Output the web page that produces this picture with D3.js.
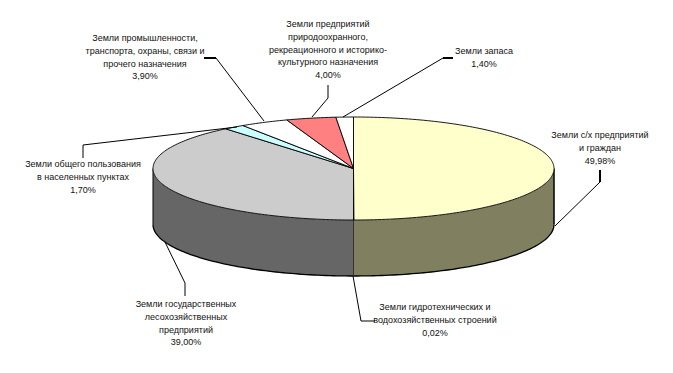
<!DOCTYPE html>
<html>
<head>
<meta charset="utf-8">
<script src="https://cdn.jsdelivr.net/npm/d3@7"></script>
<style>
  html, body { margin: 0; padding: 0; background: #fff; }
  svg { display: block; }
  text { font-family: "Liberation Sans", Arial, sans-serif; font-size: 9px; fill: #111; text-anchor: middle; }
</style>
</head>
<body>
<div id="chart"></div>
<script>
const categories = [
  'Земли с/х предприятий и граждан',
  'Земли гидротехнических и водохозяйственных строений',
  'Земли государственных лесохозяйственных предприятий',
  'Земли общего пользования в населенных пунктах',
  'Земли промышленности, транспорта, охраны, связи и прочего назначения',
  'Земли предприятий природоохранного, рекреационного и историко-культурного назначения',
  'Земли запаса'
];
const shares = [49.98, 0.02, 39.0, 1.7, 3.9, 4.0, 1.4];
const valueLabels = ['49,98%', '0,02%', '39,00%', '1,70%', '3,90%', '4,00%', '1,40%'];

const topColors = ['#ffffcc', '#ffffcc', '#cccccc', '#ccffff', '#ffffff', '#ff8080', '#ffffff'];
const wallColors = ['#808060', '#808060', '#666666', '#666666', '#808080', '#804040', '#808080'];

// label wrapping and placement, same order as categories
const labelLines = [
  ['Земли с/х предприятий', 'и граждан'],
  ['Земли гидротехнических и', 'водохозяйственных строений'],
  ['Земли государственных', 'лесохозяйственных', 'предприятий'],
  ['Земли общего пользования', 'в населенных пунктах'],
  ['Земли промышленности,', 'транспорта, охраны, связи и', 'прочего назначения'],
  ['Земли предприятий', 'природоохранного,', 'рекреационного и историко-', 'культурного назначения'],
  ['Земли запаса']
];
const labelPos = [[600, 135], [435, 307], [186, 304], [83, 164], [145, 38], [328, 24], [484, 51]];
const leaders = [
  [[600, 170], [600, 182], [555, 226]],
  [[353, 276], [361, 321], [375, 321]],
  [[185, 296], [185, 283], [165, 242]],
  [[83, 158], [83, 145], [237, 127]],
  [[204, 58], [216, 58], [264, 121]],
  [[328, 85], [328, 98], [312, 117]],
  [[453, 58], [443, 58], [343, 117]]
];
const leaderTicks = [
  [[600, 170], [600, 182]],
  [],
  [],
  [],
  [[204, 58], [216, 58]],
  [],
  [[453, 58], [443, 58]]
];

const width = 673;
const height = 373;
const lineHeight = 12.8;

const svg = d3.select('#chart')
  .append('svg')
  .attr('width', width)
  .attr('height', height);

// unit circle squashed into the tilted ellipse
const x = d3.scaleLinear().domain([-1, 1]).range([153, 554]);
const y = d3.scaleLinear().domain([-1, 1]).range([117, 220]);
const depth = 56;

const pie = d3.pie().sort(null).value(d => d);
const slices = pie(shares);

const pointAt = (a, r = 1) => [x(r * Math.sin(a)), y(-r * Math.cos(a))];

function edgePoints(a0, a1) {
  const n = Math.max(2, Math.ceil((a1 - a0) / 0.02));
  return d3.range(n + 1).map(i => pointAt(a0 + (a1 - a0) * i / n));
}

const line = d3.line();

// side wall, only the front half is visible
slices.forEach((s, i) => {
  const a0 = Math.max(s.startAngle, Math.PI / 2);
  const a1 = Math.min(s.endAngle, Math.PI * 1.5);
  if (a1 <= a0) return;
  const upper = edgePoints(a0, a1);
  const lower = upper.slice().reverse().map(p => [p[0], p[1] + depth]);
  svg.append('path')
    .attr('d', line(upper.concat(lower)) + 'Z')
    .attr('fill', wallColors[i])
    .attr('stroke', 'none');
});

// wall outline
const front = edgePoints(Math.PI / 2, Math.PI * 1.5);
svg.append('path')
  .attr('d', line(front.map(p => [p[0], p[1] + depth])))
  .attr('fill', 'none')
  .attr('stroke', '#000')
  .attr('stroke-width', 1.3);
svg.append('path')
  .attr('d', line([pointAt(Math.PI / 2), [x(1), y(0) + depth]]))
  .attr('stroke', '#000').attr('stroke-width', 1.5);
svg.append('path')
  .attr('d', line([pointAt(Math.PI * 1.5), [x(-1), y(0) + depth]]))
  .attr('stroke', '#000').attr('stroke-width', 1);
svg.append('path')
  .attr('d', line([pointAt(Math.PI), [x(0), y(1) + depth]]))
  .attr('stroke', '#333');

// top of the pie
slices.forEach((s, i) => {
  const pts = [[x(0), y(0)]].concat(edgePoints(s.startAngle, s.endAngle));
  svg.append('path')
    .attr('d', line(pts) + 'Z')
    .attr('fill', topColors[i])
    .attr('stroke', '#000')
    .attr('stroke-width', 0.9)
    .attr('stroke-linejoin', 'round');
});

// leader lines
svg.append('g')
  .selectAll('path')
  .data(leaders)
  .enter()
  .append('path')
  .attr('d', d => line(d))
  .attr('fill', 'none')
  .attr('stroke', '#000');

svg.append('g')
  .selectAll('path')
  .data(leaderTicks.filter(d => d.length))
  .enter()
  .append('path')
  .attr('d', d => line(d))
  .attr('fill', 'none')
  .attr('stroke', '#000')
  .attr('stroke-width', 2);

// labels
categories.forEach((c, i) => {
  const rows = labelLines[i].concat(valueLabels[i]);
  svg.append('text')
    .attr('aria-label', c)
    .selectAll('tspan')
    .data(rows)
    .enter()
    .append('tspan')
    .attr('x', labelPos[i][0])
    .attr('y', (d, k) => labelPos[i][1] + k * lineHeight + 3)
    .text(d => d);
});
</script>
</body>
</html>
